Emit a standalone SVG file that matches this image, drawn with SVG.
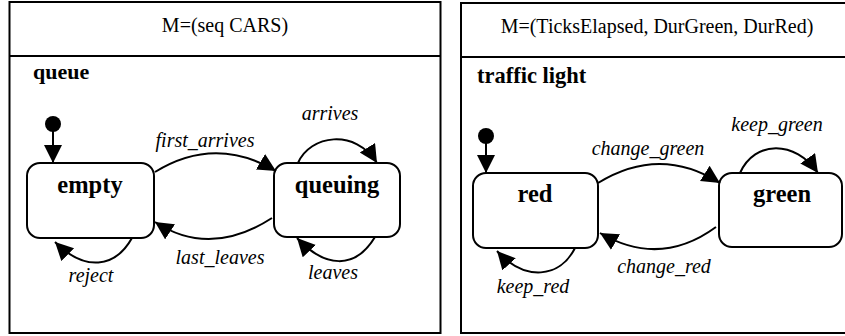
<svg xmlns="http://www.w3.org/2000/svg" width="845" height="336" viewBox="0 0 845 336">
  <defs>
    <marker id="head" markerUnits="userSpaceOnUse" markerWidth="19" markerHeight="19" refX="18" refY="9" orient="auto" viewBox="0 0 19 19">
      <path d="M0,0 L18,9 L0,18 Z" fill="#000"/>
    </marker>
  </defs>

  <rect width="845" height="336" fill="#ffffff"/>

  <!-- queue panel -->
  <g id="queue-panel">
    <rect x="9.5" y="2" width="431" height="331" fill="#fff" stroke="#000" stroke-width="2"/>
    <line x1="9.5" y1="56" x2="440.5" y2="56" stroke="#000" stroke-width="2"/>
    <text x="225" y="32" font-size="20" text-anchor="middle" font-family="Liberation Serif">M=(seq CARS)</text>
    <text x="33" y="79" font-size="22" font-weight="bold" font-family="Liberation Serif">queue</text>
  </g>

  <!-- traffic light panel -->
  <g id="light-panel">
    <rect x="461" y="3" width="386" height="330" fill="#fff" stroke="#000" stroke-width="2"/>
    <line x1="461" y1="57" x2="847" y2="57" stroke="#000" stroke-width="2"/>
    <text x="657" y="33" font-size="20" text-anchor="middle" font-family="Liberation Serif">M=(TicksElapsed, DurGreen, DurRed)</text>
    <text x="477" y="83" font-size="22.5" font-weight="bold" font-family="Liberation Serif">traffic light</text>
  </g>

  <!-- states -->
  <g id="queue-init">
    <circle cx="53" cy="124" r="8" fill="#000"/>
  </g>
  <g id="empty">
    <rect x="27" y="163" width="127" height="75" rx="13" ry="13" fill="#fff" stroke="#000" stroke-width="2"/>
    <text x="90" y="193" font-size="24.5" font-weight="bold" text-anchor="middle" font-family="Liberation Serif">empty</text>
  </g>
  <g id="queuing">
    <rect x="274" y="163" width="126" height="74" rx="13" ry="13" fill="#fff" stroke="#000" stroke-width="2"/>
    <text x="337" y="193" font-size="24.5" font-weight="bold" text-anchor="middle" font-family="Liberation Serif">queuing</text>
  </g>
  <g id="light-init">
    <circle cx="486" cy="136" r="8" fill="#000"/>
  </g>
  <g id="red">
    <rect x="473" y="173" width="125" height="75" rx="13" ry="13" fill="#fff" stroke="#000" stroke-width="2"/>
    <text x="535" y="202" font-size="24.5" font-weight="bold" text-anchor="middle" font-family="Liberation Serif">red</text>
  </g>
  <g id="green">
    <rect x="719" y="173" width="123" height="74" rx="13" ry="13" fill="#fff" stroke="#000" stroke-width="2"/>
    <text x="782" y="202" font-size="24.5" font-weight="bold" text-anchor="middle" font-family="Liberation Serif">green</text>
  </g>

  <!-- transitions -->
  <g id="connectors" fill="none" stroke="#000" stroke-width="2" marker-end="url(#head)">
    <path d="M53,124 L53,163"/>
    <path d="M155,172 Q215,135 276,171"/>
    <path d="M272,218 Q210,258 155,222"/>
    <path d="M298,163 C310,135 355,128 377,163"/>
    <path d="M375,237 C355,270 325,268 297,238"/>
    <path d="M132,238 C115,268 85,272 55,242"/>

    <path d="M486,136 L486,173"/>
    <path d="M598,183 Q660,145 720,183"/>
    <path d="M716,227 Q660,268 600,233"/>
    <path d="M740,173 C755,140 795,140 818,173"/>
    <path d="M575,248 C560,278 525,282 497,251"/>
  </g>

  <!-- transition labels -->
  <g id="labels" fill="#000" stroke="none">
    <text x="205" y="147" font-size="20" font-style="italic" text-anchor="middle" font-family="Liberation Serif">first_arrives</text>
    <text x="220" y="264" font-size="20" font-style="italic" text-anchor="middle" font-family="Liberation Serif">last_leaves</text>
    <text x="330" y="120" font-size="20" font-style="italic" text-anchor="middle" font-family="Liberation Serif">arrives</text>
    <text x="333" y="279" font-size="20" font-style="italic" text-anchor="middle" font-family="Liberation Serif">leaves</text>
    <text x="91" y="282" font-size="20" font-style="italic" text-anchor="middle" font-family="Liberation Serif">reject</text>
    <text x="648" y="155" font-size="20" font-style="italic" text-anchor="middle" font-family="Liberation Serif">change_green</text>
    <text x="664" y="273" font-size="20" font-style="italic" text-anchor="middle" font-family="Liberation Serif">change_red</text>
    <text x="777" y="131" font-size="20" font-style="italic" text-anchor="middle" font-family="Liberation Serif">keep_green</text>
    <text x="533" y="293" font-size="20" font-style="italic" text-anchor="middle" font-family="Liberation Serif">keep_red</text>
  </g>
</svg>
